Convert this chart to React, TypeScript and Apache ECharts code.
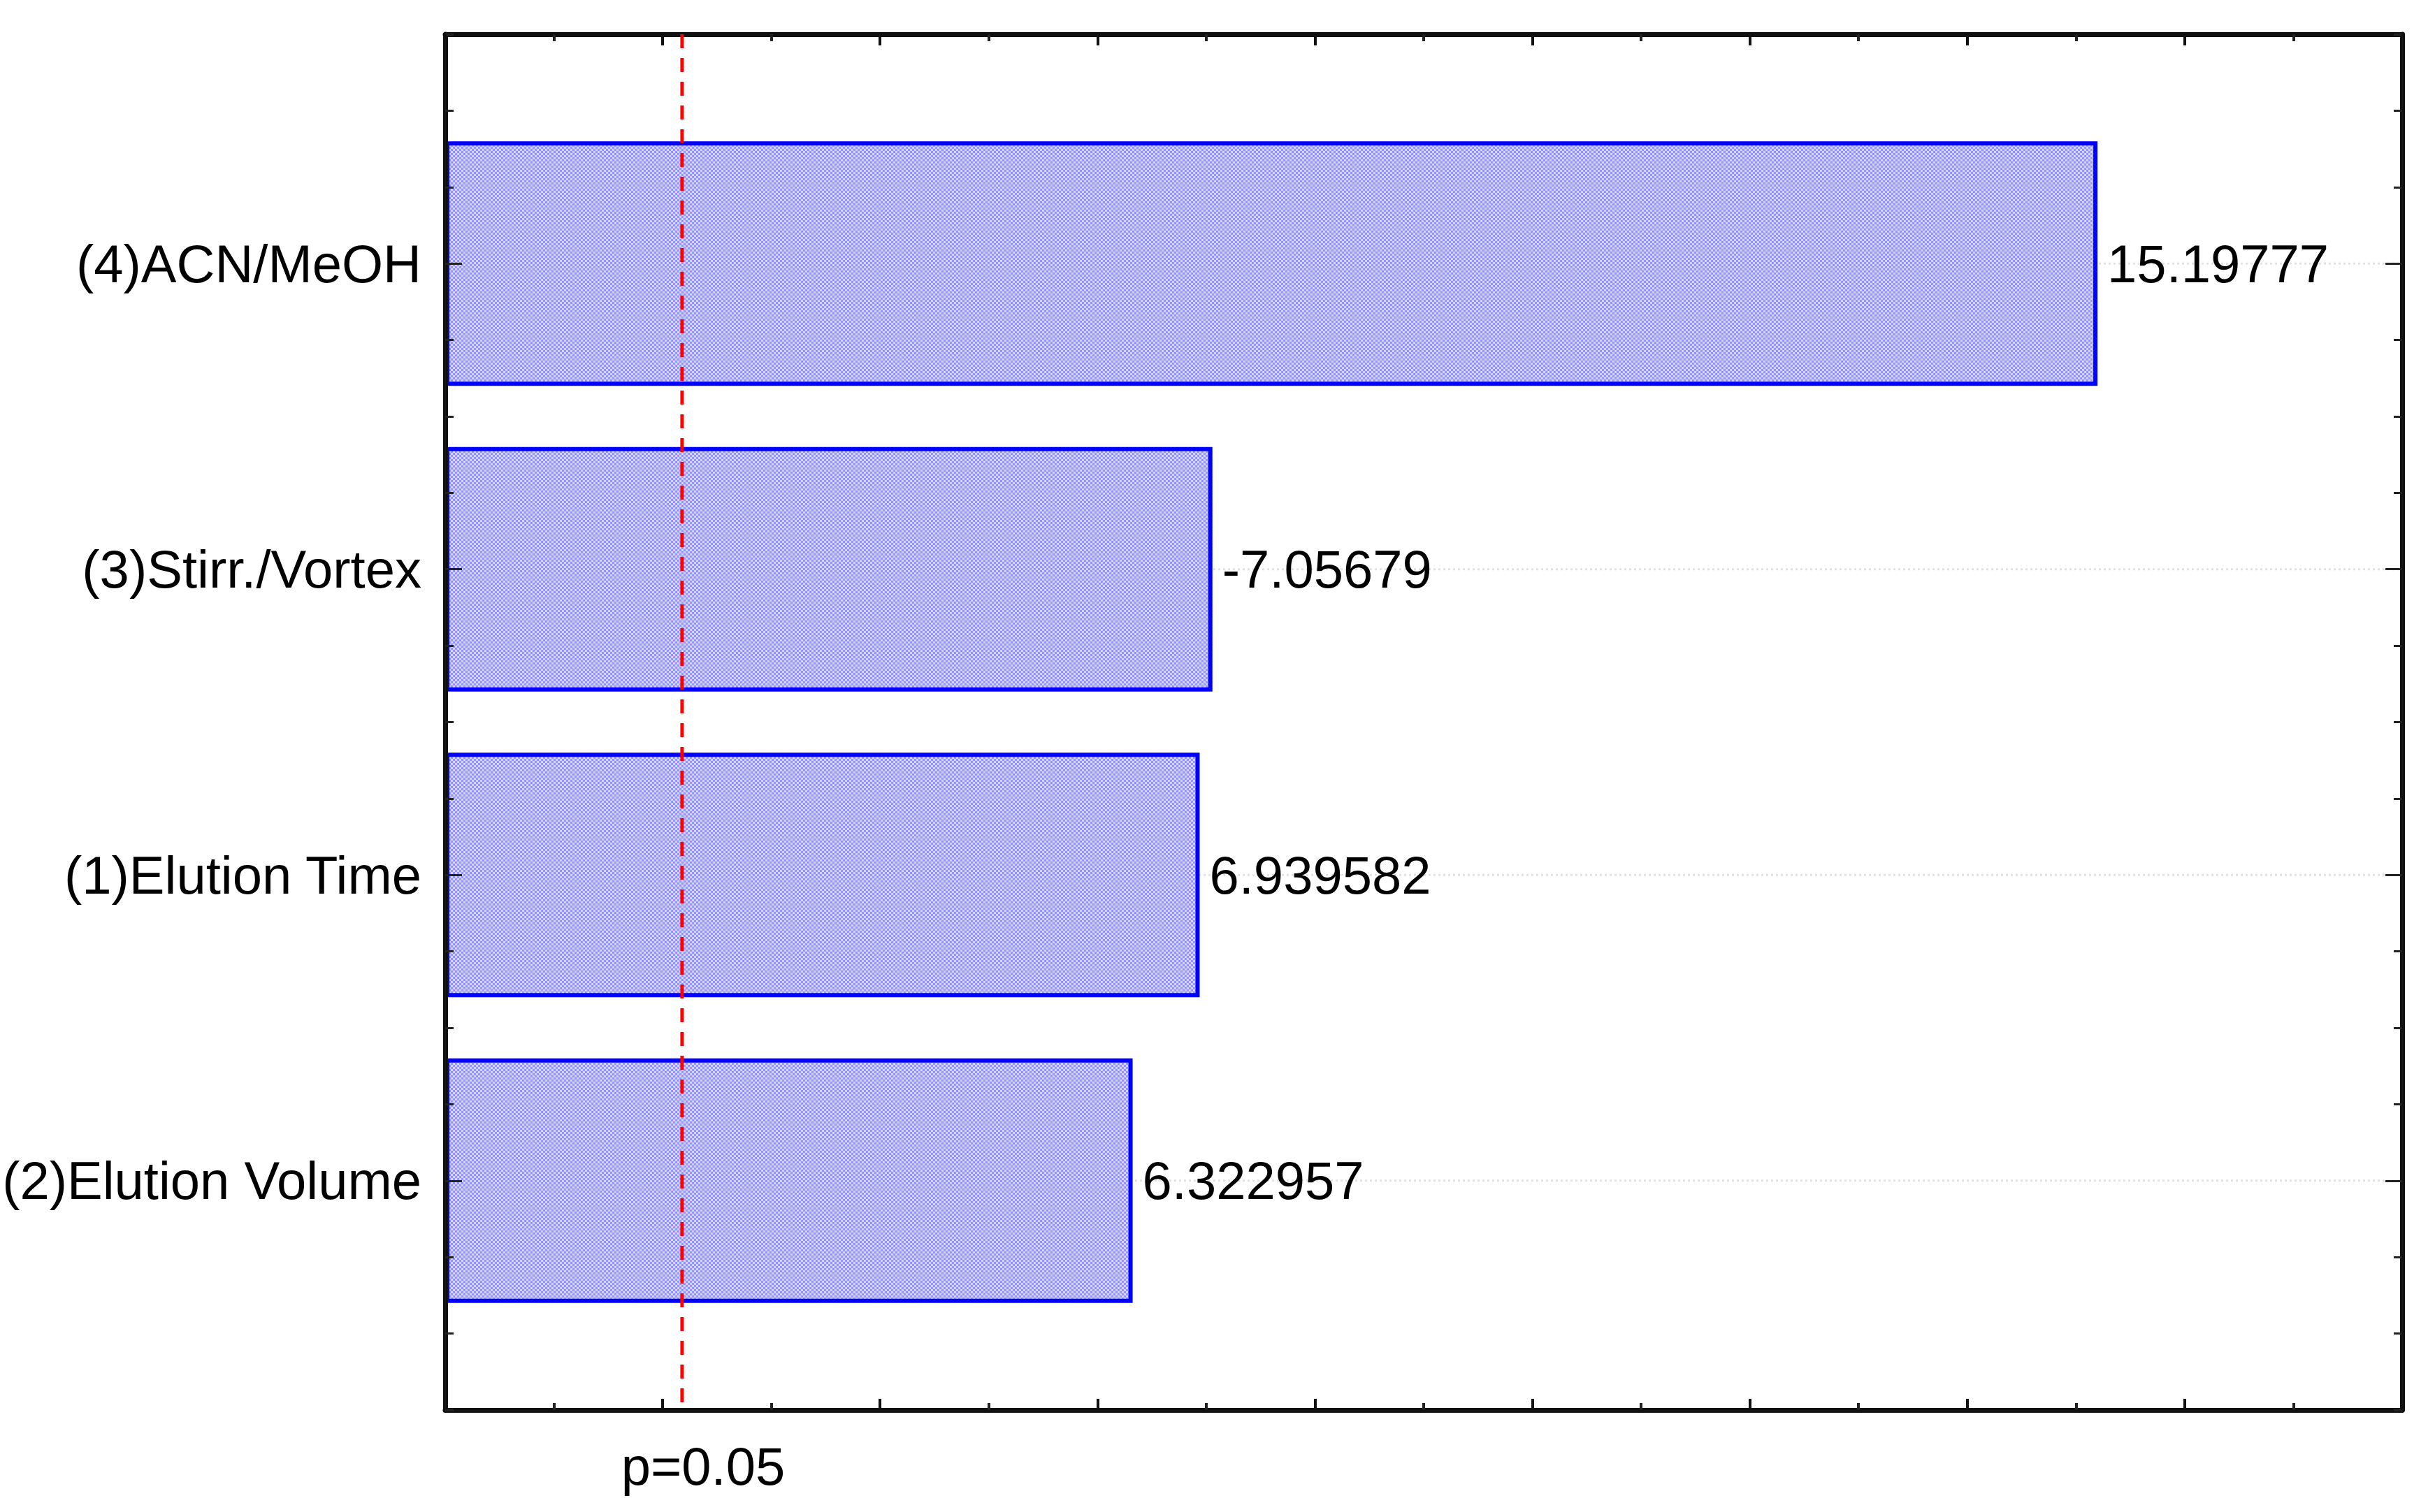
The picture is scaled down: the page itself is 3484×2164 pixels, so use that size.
import React, { useEffect, useRef } from "react";
import * as echarts from "echarts";

// ---- data ----
const categories = ["(4)ACN/MeOH", "(3)Stirr./Vortex", "(1)Elution Time", "(2)Elution Volume"];
const effects = [15.19777, -7.05679, 6.939582, 6.322957];
const pCritical = 2.178813;
const pLabel = "p=0.05";
const xMin = 0;
const xMax = 18;
const rankMin = 0.25;
const rankMax = 4.75;

const W = 3484;
const H = 2164;
const FONT = "Liberation Sans, Arial, sans-serif";
const FS = 76;

function makePattern(): HTMLCanvasElement {
  const c = document.createElement("canvas");
  c.width = 12;
  c.height = 12;
  const ctx = c.getContext("2d")!;
  for (let y = 0; y < 12; y += 3) {
    for (let x = 0; x < 12; x += 3) {
      const on = ((x + y) / 3) % 2 === 0;
      ctx.fillStyle = on ? "#9494ff" : "#d4d4ff";
      ctx.fillRect(x, y, 3, 3);
    }
  }
  return c;
}

export default function App() {
  const ref = useRef<HTMLDivElement>(null);
  useEffect(() => {
    document.body.style.margin = "0";
    document.body.style.overflow = "hidden";
    const chart = echarts.init(ref.current!, null, { renderer: "svg" });

    const plotTop = 49;
    const plotBottomPx = 2018;
    const left = 637;
    const right = W - 3437;
    const unitY = (plotBottomPx - plotTop) / (rankMax - rankMin);
    const pad = 0.25 * unitY;

    const barValues = effects.map((v) => Math.abs(v));
    const gridLineData: any[] = [];
    categories.forEach((_, i) => {
      gridLineData.push([xMin, i + 1], [xMax, i + 1], ["-", "-"]);
    });

    const frameX = (pos: "bottom" | "top") => ({
      type: "value",
      gridIndex: 0,
      position: pos,
      min: xMin,
      max: xMax,
      interval: 2,
      z: 5,
      axisLine: { show: true, onZero: false, lineStyle: { color: "#111", width: 7 } },
      axisTick: { show: true, inside: true, length: 16, lineStyle: { color: "#111", width: 4 } },
      minorTick: { show: true, splitNumber: 2, length: 10, lineStyle: { color: "#222", width: 4 } },
      axisLabel: { show: false },
      splitLine: { show: false },
    });
    const frameY = (pos: "left" | "right") => ({
      type: "value",
      gridIndex: 0,
      position: pos,
      inverse: true,
      min: rankMin,
      max: rankMax,
      interval: 0.25,
      z: 5,
      axisLine: { show: true, onZero: false, lineStyle: { color: "#111", width: 7 } },
      axisTick: { show: true, inside: true, length: 12, lineStyle: { color: "#222", width: 3 } },
      axisLabel: { show: false },
      splitLine: { show: false },
    });
    const catY = (pos: "left" | "right", labels: boolean) => ({
      type: "category",
      gridIndex: 1,
      position: pos,
      inverse: true,
      data: categories,
      z: 5,
      axisLine: { show: false },
      axisTick: { show: true, inside: true, alignWithLabel: true, length: 24, lineStyle: { color: "#222", width: 3 } },
      axisLabel: {
        show: labels,
        margin: 34,
        color: "#000",
        fontSize: FS,
        fontFamily: FONT,
      },
      splitLine: { show: false },
    });

    chart.setOption({
      animation: false,
      backgroundColor: "#ffffff",
      grid: [
        { left, right, top: plotTop, bottom: H - plotBottomPx },
        { left, right, top: plotTop + pad, bottom: H - plotBottomPx + pad },
      ],
      xAxis: [
        frameX("bottom"),
        frameX("top"),
        { type: "value", gridIndex: 1, min: xMin, max: xMax, show: false },
      ],
      yAxis: [frameY("left"), frameY("right"), catY("left", true), catY("right", false)],
      series: [
        {
          type: "line",
          name: "grid",
          xAxisIndex: 0,
          yAxisIndex: 0,
          data: gridLineData,
          symbol: "none",
          connectNulls: false,
          silent: true,
          z: 1,
          lineStyle: { color: "#e2e2e2", width: 3, type: [3, 4] },
        },
        {
          type: "bar",
          name: "effects",
          xAxisIndex: 2,
          yAxisIndex: 2,
          data: barValues,
          barWidth: "80%",
          z: 2,
          itemStyle: {
            color: { image: makePattern(), repeat: "repeat" } as any,
            borderColor: "#0000ff",
            borderWidth: 6,
          },
          label: {
            show: true,
            position: "right",
            distance: 14,
            color: "#000",
            fontSize: FS,
            fontFamily: FONT,
            formatter: (p: any) => String(effects[p.dataIndex]),
          },
        },
        {
          type: "line",
          name: "p",
          xAxisIndex: 0,
          yAxisIndex: 0,
          data: [
            [pCritical, rankMin],
            [pCritical, rankMax],
          ],
          symbol: "none",
          silent: true,
          z: 10,
          lineStyle: { color: "#ff0000", width: 5, type: [20, 14] },
        },
        {
          type: "scatter",
          name: "pLabel",
          xAxisIndex: 0,
          yAxisIndex: 0,
          data: [[pCritical, rankMax]],
          symbolSize: 1,
          silent: true,
          z: 10,
          itemStyle: { color: "rgba(255,255,255,0)" },
          label: {
            show: true,
            position: "bottom",
            distance: 42,
            offset: [30, 0],
            formatter: pLabel,
            color: "#000000",
            opacity: 1,
            fontSize: FS,
            fontFamily: FONT,
          },
        },
      ],
    });
    return () => chart.dispose();
  }, []);
  return <div ref={ref} style={{ width: W, height: H }} />;
}
